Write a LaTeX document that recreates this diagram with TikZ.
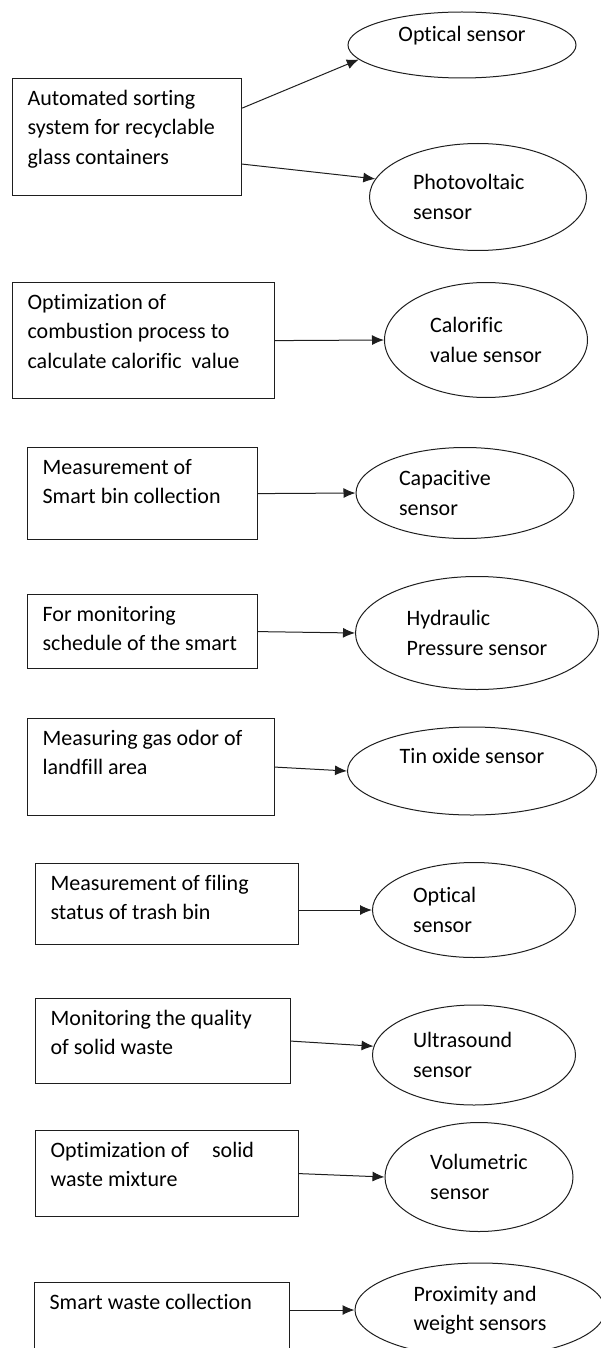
\documentclass[tikz,border=0pt]{standalone}
\usepackage{fontspec}
\setmainfont{Carlito}[Ligatures=NoCommon]
\usepackage{tikz}
\usetikzlibrary{arrows.meta,shapes,positioning}
\definecolor{wsline}{RGB}{30,30,30}
\tikzstyle{process} = [rectangle, anchor=north west, draw=wsline, line width=1.2pt, inner xsep=15pt, inner ysep=6pt, font=\fontsize{22}{29.5}\selectfont]
\tikzstyle{sensor} = [ellipse, draw=wsline, line width=1pt, inner sep=0pt, align=left, font=\fontsize{22}{29.5}\selectfont]
\tikzstyle{arrow} = [line width=1pt, color=wsline, -{Latex[length=12pt,width=10pt]}]
\newcommand{\boxtext}[3]{\parbox[t][#2][t]{#1}{\strut#3}}

\begin{document}
\begin{tikzpicture}[x=1pt, y=-1pt]
\useasboundingbox (0,0) rectangle (601,1348);

% Applications
\node[process] (b1) at (12,78) {\boxtext{199pt}{105pt}{Automated sorting\\system for recyclable\\glass containers}};
\node[process] (b2) at (12,282) {\boxtext{232pt}{104pt}{Optimization of\\combustion process to\\calculate calorific~ value}};
\node[process] (b3) at (27,447) {\boxtext{200pt}{80pt}{Measurement of\\Smart bin collection}};
\node[process] (b4) at (27,594) {\boxtext{200pt}{62pt}{For monitoring\\schedule of the smart}};
\node[process] (b5) at (27,718) {\boxtext{217pt}{85pt}{Measuring gas odor of\\landfill area}};
\node[process] (b6) at (35,863) {\boxtext{233pt}{69pt}{Measurement of filing\\status of trash bin}};
\node[process] (b7) at (35,998) {\boxtext{225pt}{73pt}{Monitoring the quality\\of solid waste}};
\node[process] (b8) at (35,1130) {\boxtext{233pt}{74pt}{Optimization of\hspace{18pt} solid\\waste mixture}};
\node[process] (b9) at (34,1282) {\boxtext{225pt}{78pt}{Smart waste collection}};

% Sensors
\node[sensor, minimum width=228pt, minimum height=66pt, text height=16pt, text depth=22pt] (s1) at (462,45) {Optical sensor};
\node[sensor, minimum width=217pt, minimum height=107pt, text width=130pt] (s2) at (478,197) {Photovoltaic\\sensor};
\node[sensor, minimum width=203pt, minimum height=115pt] (s3) at (486,340) {Calorific\\value sensor};
\node[sensor, minimum width=218pt, minimum height=91pt, text width=132pt] (s4) at (465,493) {Capacitive\\sensor};
\node[sensor, minimum width=243pt, minimum height=113pt] (s5) at (477,633) {Hydraulic\\Pressure sensor};
\node[sensor, minimum width=249pt, minimum height=88pt, text height=16pt, text depth=32pt] (s6) at (472,771) {Tin oxide sensor};
\node[sensor, minimum width=203pt, minimum height=95pt, text width=122pt] (s7) at (474,910) {Optical\\sensor};
\node[sensor, minimum width=203pt, minimum height=100pt, text width=122pt] (s8) at (474,1055) {Ultrasound\\sensor};
\node[sensor, minimum width=188pt, minimum height=109pt] (s9) at (479,1177) {Volumetric\\sensor};
\node[sensor, minimum width=250pt, minimum height=94pt] (s10) at (480,1310) {Proximity and\\weight sensors};

% Arrows
\draw[arrow] ([yshift=29pt]b1.east) -- (s1.188);
\draw[arrow] ([yshift=-27pt]b1.east) -- (s2.170);
\draw[arrow] (b2.east) -- (s3.west);
\draw[arrow] (b3.east) -- (s4.west);
\draw[arrow] (b4.east) -- (s5.west);
\draw[arrow] (b5.east) -- (s6.west);
\draw[arrow] (b6.east |- s7.west) -- (s7.west);
\draw[arrow] (b7.east) -- (s8.175);
\draw[arrow] (b8.east) -- (s9.west);
\draw[arrow] (b9.east |- s10.west) -- (s10.west);
\end{tikzpicture}
\end{document}
